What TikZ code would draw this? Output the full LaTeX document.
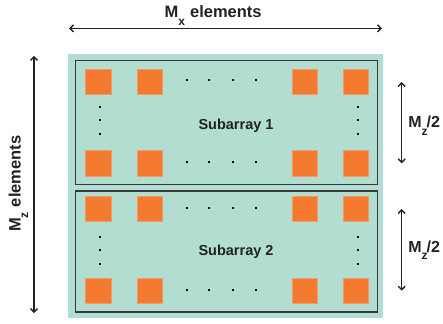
\documentclass[tikz,border=0pt]{standalone}
\usepackage{fontspec}
\setmainfont{Liberation Sans}
\usetikzlibrary{arrows.meta}
\definecolor{arrfill}{HTML}{B2DED2}
\definecolor{arredge}{HTML}{A9DBEB}
\definecolor{elemfill}{HTML}{F47A30}
\definecolor{elemedge}{HTML}{F39A68}
\definecolor{ink}{HTML}{222222}
\newcommand\lsub[1]{\raisebox{-7.5pt}{\fontsize{12}{12}\selectfont #1}}
\tikzset{
  outerbox/.style={fill=arrfill,draw=arredge,line width=1.6pt},
  subbox/.style={draw=ink!90,line width=1.1pt},
  elem/.style={fill=elemfill,draw=elemedge,line width=0.5pt,minimum size=25.2pt,inner sep=0pt},
  dotn/.style={fill=black,minimum size=2.3pt,inner sep=0pt},
  dimarrow/.style={draw=ink,line width=1.4pt,{Straight Barb[length=3.5pt,width=7pt,line width=1.4pt]}-{Straight Barb[length=3.5pt,width=7pt,line width=1.4pt]}},
  lbl/.style={inner sep=0pt,text=ink,font=\fontsize{16.5}{19}\selectfont\bfseries},
  hlbl/.style={inner sep=0pt,text=ink,font=\fontsize{16}{19}\selectfont\bfseries},
  sublbl/.style={inner sep=0pt,text=ink,font=\fontsize{14.5}{17}\selectfont\bfseries}
}
\begin{document}
\begin{tikzpicture}[x=1pt,y=-1pt]
\useasboundingbox (0,0) rectangle (443,323);
% array background
\path[outerbox] (68.5,54.5) rectangle (382.5,317.5);
\node[subbox,minimum width=302pt,minimum height=123.6pt,inner sep=0pt] (sa1) at (226.5,122.5) {};
\node[subbox,minimum width=302pt,minimum height=121pt,inner sep=0pt] (sa2) at (226.5,251.5) {};
\node[sublbl] (t1) at (236,126) {Subarray 1};
\node[sublbl] (t2) at (236,252) {Subarray 2};
% elements
\foreach \r/\y in {a/81.5,b/163.3,c/209,d/291}{
  \foreach \c/\x in {1/98.2,2/149.8,3/304.5,4/356}{
    \node[elem] (e\r\c) at (\x,\y) {};
  }
  \foreach \k/\x in {1/186.7,2/209.3,3/233.3,4/256.3}{
    \node[dotn] (h\r\k) at (\x,\y-1.3) {};
  }
}
\foreach \g/\ys in {1/{106.7,120,133.7},2/{236.7,250,263.7}}{
  \foreach \y [count=\k] in \ys {
    \node[dotn] (vl\g\k) at (100,\y) {};
    \node[dotn] (vr\g\k) at (358,\y) {};
  }
}
% dimension arrows
\coordinate (xl) at (69,28.3);
\coordinate (xr) at (382,28.3);
\draw[dimarrow] (xl) -- (xr);
\node[lbl,anchor=base west] (mx) at (164.5,18) {M\lsub{x}\hspace{5pt}elements};
\coordinate (zt) at (34,56);
\coordinate (zb) at (34,313);
\draw[dimarrow] (zt) -- (zb);
\node[lbl,anchor=base west,rotate=90] (mz) at (20.7,232) {M\lsub{z}\hspace{5pt}elements};
\coordinate (a1t) at (401.7,82);
\coordinate (a1b) at (401.7,163.3);
\draw[dimarrow] (a1t) -- (a1b);
\node[hlbl,anchor=base west] (h1) at (408.2,127.7) {M\lsub{z}\kern-1pt/2};
\coordinate (a2t) at (401.7,209);
\coordinate (a2b) at (401.7,290.7);
\draw[dimarrow] (a2t) -- (a2b);
\node[hlbl,anchor=base west] (h2) at (408.2,252.3) {M\lsub{z}\kern-1pt/2};
\end{tikzpicture}
\end{document}
